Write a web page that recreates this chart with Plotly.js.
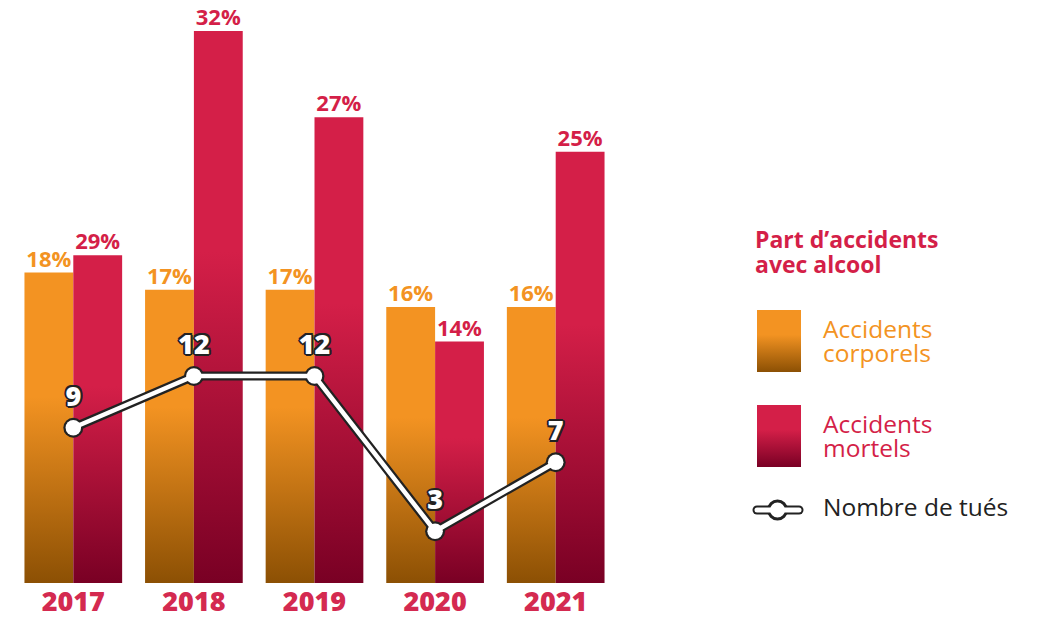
<!DOCTYPE html>
<html>
<head>
<meta charset="utf-8">
<script src="https://cdn.plot.ly/plotly-3.0.1.min.js"></script>
<style>
html,body{margin:0;padding:0;background:#fff;}
#chart{width:1042px;height:618px;}
</style>
</head>
<body>
<div id="chart"></div>
<script>
// ---- data ----
const years = ["2017", "2018", "2019", "2020", "2021"];
// Accidents corporels (% with alcohol)
const corporels = [18, 17, 17, 16, 16];
const corporelsLabels = ["18%", "17%", "17%", "16%", "16%"];
// Accidents mortels: bar heights as drawn in the reference (the 2017 bar is drawn
// at about 19 units although labelled 29%)
const mortels = [19, 32, 27, 14, 25];
const mortelsLabels = ["29%", "32%", "27%", "14%", "25%"];
// Nombre de tués
const tues = [9, 12, 12, 3, 7];
const tuesLabels = ["9", "12", "12", "3", "7"];

const ORANGE = "#f39322", ORANGE_D = "#8c5004";
const RED = "#d41f48", RED_D = "#790024";
const DARK = "#222222";
const FONT = "'Open Sans', 'Noto Sans', sans-serif";

const W = 1042, H = 618, B = 35;
const px = x => x / W;
const py = y => (H - B - y) / (H - B);

const outline = "2px 0 0 #222, -2px 0 0 #222, 0 2px 0 #222, 0 -2px 0 #222, 1.5px 1.5px 0 #222, -1.5px -1.5px 0 #222, 1.5px -1.5px 0 #222, -1.5px 1.5px 0 #222";

const traces = [
  {
    type: "bar", x: years, y: corporels, text: corporelsLabels,
    texttemplate: "%{text}", textposition: "outside", constraintext: "none",
    cliponaxis: false,
    textfont: {family: FONT, size: 22, weight: 700, color: ORANGE},
    marker: {color: ORANGE, line: {width: 0}}, hoverinfo: "skip", showlegend: false
  },
  {
    type: "bar", x: years, y: mortels, text: mortelsLabels,
    texttemplate: "%{text}", textposition: "outside", constraintext: "none",
    cliponaxis: false,
    textfont: {family: FONT, size: 22, weight: 700, color: RED},
    marker: {color: RED, line: {width: 0}}, hoverinfo: "skip", showlegend: false
  },
  {
    type: "scatter", mode: "lines+markers", x: years, y: tues, cliponaxis: false,
    line: {color: DARK, width: 9}, marker: {color: DARK, size: 20},
    hoverinfo: "skip", showlegend: false
  },
  {
    type: "scatter", mode: "lines+markers", x: years, y: tues, cliponaxis: false,
    line: {color: "#ffffff", width: 4.5}, marker: {color: "#ffffff", size: 15.5},
    hoverinfo: "skip", showlegend: false
  },
  {
    type: "scatter", mode: "markers+text", x: years, y: tues, cliponaxis: false,
    text: tuesLabels, textposition: "top center",
    textfont: {family: FONT, size: 27, weight: 800, color: "#ffffff", shadow: outline},
    marker: {color: "rgba(0,0,0,0)", size: 23},
    hoverinfo: "skip", showlegend: false
  }
];

// legend block: [text, centre y of block (px), font size, weight, colour, line step in em]
const legendBlocks = [
  ["Part d’accidents<br>avec alcool", 251.5, 23, 700, RED, 25 / 23],
  ["Accidents<br>corporels", 341, 24.5, 400, ORANGE, 24 / 24.5],
  ["Accidents<br>mortels", 436, 24.5, 400, RED, 24 / 24.5],
  ["Nombre de tués", 507, 24.5, 400, DARK, 1]
];
const annotations = legendBlocks.map(([t, y, s, w, c, k], i) => ({
  xref: "paper", yref: "paper", showarrow: false, align: "left",
  text: t, x: px(i === 0 ? 753 : 821),
  // Plotly spaces lines by 1.3em; the block is tightened afterwards, so compensate the centre
  y: py(y + (t.includes("<br>") ? (1.3 - k) * s / 2 : 0)),
  xanchor: "left", yanchor: "middle",
  font: {family: FONT, size: s, weight: w, color: c}
}));

const shapes = [
  {type: "rect", x0: px(757), x1: px(801), y0: py(372), y1: py(310), fillcolor: ORANGE, line: {width: 0}},
  {type: "rect", x0: px(757), x1: px(801), y0: py(467), y1: py(405), fillcolor: RED, line: {width: 0}},
  {type: "line", x0: px(757), x1: px(799), y0: py(510), y1: py(510), line: {color: DARK, width: 9}},
  {type: "circle", x0: px(767), x1: px(788), y0: py(520.5), y1: py(499.5), fillcolor: DARK, line: {width: 0}},
  {type: "line", x0: px(757), x1: px(799), y0: py(510), y1: py(510), line: {color: "#fff", width: 5}},
  {type: "circle", x0: px(770), x1: px(785), y0: py(517.5), y1: py(502.5), fillcolor: "#fff", line: {width: 0}}
].map(s => Object.assign({xref: "paper", yref: "paper", layer: "above"}, s));

const layout = {
  width: W, height: H,
  margin: {l: 0, r: 0, t: 0, b: B},
  paper_bgcolor: "#fff", plot_bgcolor: "rgba(0,0,0,0)",
  barmode: "group", bargap: 0.19, bargroupgap: 0,
  showlegend: false,
  font: {family: FONT},
  xaxis: {
    type: "category", domain: [px(13), px(616)],
    showgrid: false, zeroline: false, showline: false, ticks: "",
    tickfont: {family: FONT, size: 27, weight: 800, color: "#d42a50"},
    ticklabelstandoff: 0, fixedrange: true
  },
  yaxis: {
    range: [0, (H - B) / 17.25], visible: false, showgrid: false, zeroline: false, fixedrange: true
  },
  annotations: annotations,
  shapes: shapes
};

const gd = document.getElementById("chart");
Plotly.newPlot(gd, traces, layout, {displayModeBar: false, staticPlot: true}).then(() => {
  const svgNS = "http://www.w3.org/2000/svg";
  const defs = gd.querySelector("svg.main-svg defs");
  function grad(id, top, bottom) {
    const g = document.createElementNS(svgNS, "linearGradient");
    g.setAttribute("id", id);
    g.setAttribute("x1", "0"); g.setAttribute("y1", "0");
    g.setAttribute("x2", "0"); g.setAttribute("y2", "1");
    [[0, top], [0.4, top], [1, bottom]].forEach(([o, c]) => {
      const s = document.createElementNS(svgNS, "stop");
      s.setAttribute("offset", o); s.setAttribute("stop-color", c);
      g.appendChild(s);
    });
    defs.appendChild(g);
  }
  grad("gradO", ORANGE, ORANGE_D);
  grad("gradR", RED, RED_D);
  const barTraces = gd.querySelectorAll(".barlayer .trace");
  const ids = ["gradO", "gradR"];
  barTraces.forEach((t, i) => {
    t.querySelectorAll(".point path").forEach(p => { p.style.fill = "url(#" + ids[i] + ")"; });
    // nudge the outside labels a little closer to their bars
    t.querySelectorAll(".point text").forEach(tx => {
      const tr = tx.getAttribute("transform") || "";
      tx.setAttribute("transform", "translate(0,3) " + tr);
    });
  });
  gd.querySelectorAll(".shapelayer path[data-index]").forEach(p => {
    const idx = +p.getAttribute("data-index");
    if (idx === 0) p.style.fill = "url(#gradO)";
    if (idx === 1) p.style.fill = "url(#gradR)";
    if (idx === 2 || idx === 4) p.style.strokeLinecap = "round";
  });
  // tighten legend line spacing
  gd.querySelectorAll(".annotation").forEach(a => {
    const idx = +a.getAttribute("data-index");
    const k = legendBlocks[idx] ? legendBlocks[idx][5] : 1.3;
    a.querySelectorAll("tspan.line").forEach((ts, i) => {
      if (i > 0) ts.setAttribute("dy", (i * k) + "em");
    });
  });
});
</script>
</body>
</html>
